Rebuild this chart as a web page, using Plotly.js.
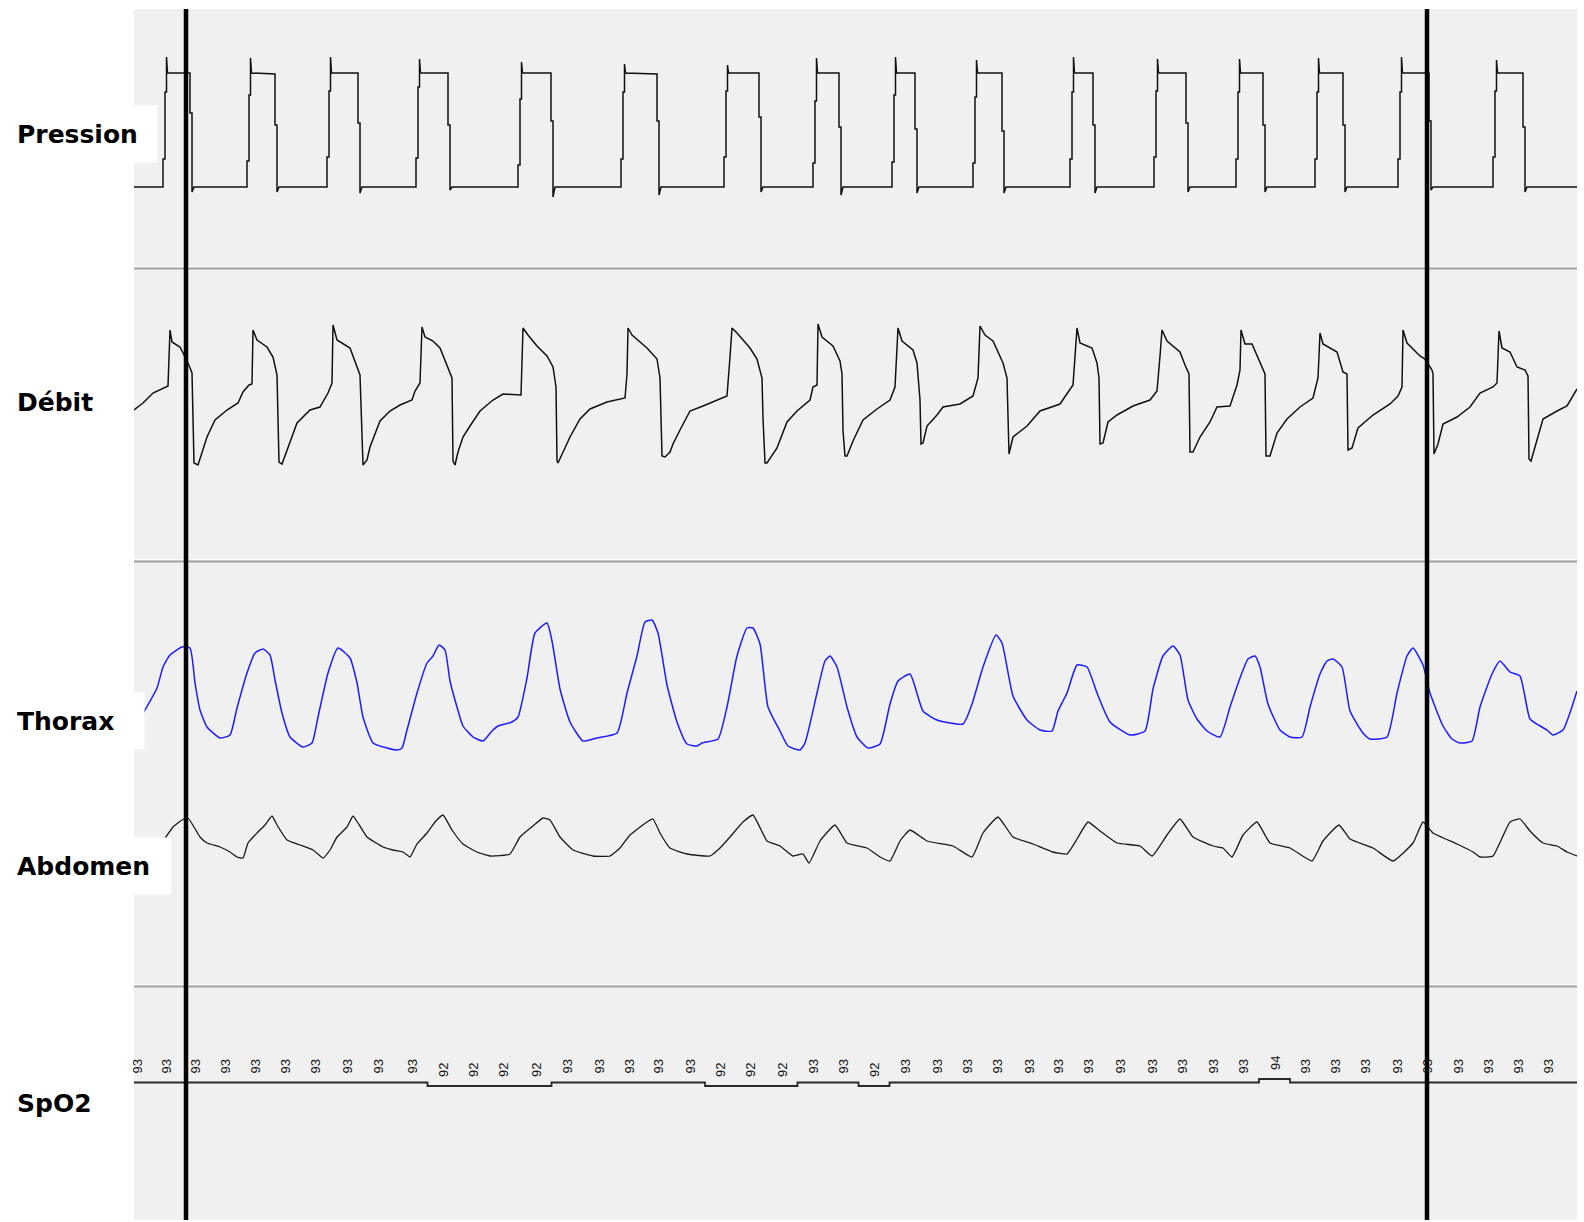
<!DOCTYPE html>
<html>
<head>
<meta charset="utf-8">
<script src="https://cdn.plot.ly/plotly-3.0.1.min.js"></script>
<style>html,body{margin:0;padding:0;background:#fff}#chart{width:1584px;height:1222px}</style>
</head>
<body>
<div id="chart"></div>
<script>
// ---------- data (time in sample units, signals in arbitrary units) ----------
const channelNames = ['Pression', 'Débit', 'Thorax', 'Abdomen', 'SpO2'];

const pressT = [134,
  163,163,165,165,166.5,166.5,167.5,190,190,192,192,194,
  247,247,249,249,250.5,250.5,251.5,275,275,277,277,279,
  327,327,329,329,330.5,330.5,331.5,358,358,360,360,362,
  416,416,418,418,419.5,419.5,420.5,448,448,450,450,452,
  518,518,520,520,521.5,521.5,522.5,551,551,553,553,555,
  621,621,623,623,624.5,624.5,625.5,657,657,659,659,661,
  724,724,726,726,727.5,727.5,728.5,759,759,761,761,763,
  813,813,815,815,816.5,816.5,817.5,839,839,841,841,843,
  892,892,894,894,895.5,895.5,896.5,915,915,917,917,919,
  973,973,975,975,976.5,976.5,977.5,1002,1002,1004,1004,1006,
  1070,1070,1072,1072,1073.5,1073.5,1074.5,1093,1093,1095,1095,1097,
  1154,1154,1156,1156,1157.5,1157.5,1158.5,1186,1186,1188,1188,1190,
  1236,1236,1238,1238,1239.5,1239.5,1240.5,1263,1263,1265,1265,1267,
  1315,1315,1317,1317,1318.5,1318.5,1319.5,1343,1343,1345,1345,1347,
  1398,1398,1400,1400,1401.5,1401.5,1402.5,1429,1429,1431,1431,1433,
  1493,1493,1495,1495,1496.5,1496.5,1497.5,1523,1523,1525,1525,1527,
  1577];
const pressV = [0,
  0,28,28,95,95,130,114,114,74,74,-5,0,
  0,26,26,92,92,129,114,113,62,62,-5,0,
  0,30,30,96,96,130,114,114,64,64,-6,0,
  0,29,29,100,100,128,114,114,62,62,-3,0,
  0,22,22,88,88,125,114,114,66,66,-10,0,
  0,28,28,95,95,123,114,113,66,66,-8,0,
  0,30,30,96,96,122,114,114,70,70,-5,0,
  0,24,24,86,86,129,114,114,60,60,-8,0,
  0,25,25,92,92,130,114,114,58,58,-6,0,
  0,24,24,90,90,127,114,114,56,56,-6,0,
  0,28,28,95,95,130,114,114,62,62,-6,0,
  0,30,30,96,96,128,114,114,64,64,-5,0,
  0,28,28,95,95,128,114,114,62,62,-5,0,
  0,28,28,95,95,129,114,114,62,62,-5,0,
  0,28,28,95,95,130,114,114,66,66,-3,0,
  0,30,30,96,96,127,114,114,60,60,-5,0,
  0];

const flowT = [
  134,143,153,165,168,170,172,180,183,188,192,194,198,202,207,215,227,238,243,249,252,
  253,257,267,273,277,279,282,287,297,310,320,328,332,
  333,337,350,357,360,363,367,370,380,390,400,412,415,420,
  422,425,433,440,447,452,453,455,458,463,470,480,493,503,521,
  523,528,537,547,553,556,557,558,563,570,580,590,607,625,627,
  628,632,647,657,660,662,665,670,673,680,690,703,727,730,
  732,737,750,757,762,763,765,767,777,787,797,810,813,817,
  818,822,833,840,842,843,845,847,853,863,877,890,895,
  898,902,913,917,920,921,923,927,937,943,960,973,978,
  980,985,993,1003,1007,1009,1013,1027,1040,1060,1073,
  1077,1080,1092,1097,1099,1100,1103,1108,1117,1133,1150,1157,1160,
  1162,1167,1180,1185,1189,1190,1193,1200,1210,1217,1230,1237,1240,
  1241,1245,1252,1260,1265,1266,1270,1277,1287,1300,1313,1318,
  1320,1323,1337,1343,1347,1348,1352,1358,1373,1390,1398,1402,
  1403,1407,1420,1425,1432,1433,1434,1438,1443,1457,1470,1480,1493,1497,
  1499,1502,1510,1517,1525,1528,1529,1531,1537,1543,1557,1567,1577];
const flowV = [
  -5,2,12,18,19,75,63,58,52,42,32,-58,-60,-48,-32,-15,-5,2,13,20,21,
  75,65,58,48,30,-57,-59,-45,-18,-5,-2,12,22,
  80,65,57,38,30,-60,-55,-42,-16,-6,0,5,14,22,
  78,68,64,57,40,27,-56,-60,-47,-32,-21,-6,5,11,10,
  77,70,59,49,38,18,-56,-58,-47,-32,-14,-4,3,7,31,
  77,70,57,46,27,-51,-52,-47,-39,-25,-6,-1,9,48,
  77,72,57,46,27,-13,-58,-58,-43,-17,-6,5,18,20,
  81,68,59,44,31,-26,-51,-51,-36,-15,-4,5,18,
  77,64,55,42,5,-39,-38,-21,-10,-2,1,9,27,
  79,70,64,42,27,-49,-32,-21,-6,1,20,
  77,62,57,42,27,-39,-38,-17,-10,-1,5,14,49,
  75,64,53,40,31,-47,-47,-32,-17,-2,-1,20,35,
  75,61,61,42,31,-51,-51,-28,-14,-2,7,27,
  72,61,53,33,31,-45,-43,-23,-10,1,9,18,
  75,62,49,46,35,31,-49,-39,-19,-12,-2,12,18,22,
  74,57,53,38,35,29,-54,-56,-36,-14,-6,-1,16];

const thoraxT = [
  134,145,157,163,170,182,190,195,200,207,220,230,
  237,247,255,263,270,275,282,290,303,312,
  318,328,338,350,357,363,373,387,397,402,
  407,417,427,433,439,445,450,457,463,473,483,492,498,512,518,
  527,535,547,552,560,570,583,597,617,
  627,637,645,652,658,667,677,687,697,702,718,
  727,737,747,753,760,768,780,788,800,805,
  817,825,830,837,847,857,868,880,
  890,898,910,923,937,963,
  972,983,996,1002,1013,1027,1040,1052,
  1058,1067,1077,1087,1097,1110,1130,1145,
  1153,1163,1173,1180,1188,1197,1207,1220,
  1230,1240,1248,1255,1260,1268,1280,1290,1302,
  1310,1320,1327,1333,1342,1350,1363,1370,1387,
  1397,1407,1413,1423,1430,1443,1452,1460,1472,
  1480,1492,1500,1510,1520,1530,1540,1547,1553,1563,1577];
const thoraxV = [
  -28,-10,12,33,45,53,52,17,-10,-27,-38,-35,
  -8,27,47,51,45,20,-13,-37,-47,-43,
  -17,27,52,42,17,-17,-43,-48,-50,-48,
  -30,7,37,44,55,50,19,-7,-26,-37,-41,-31,-26,-22,-17,
  22,67,77,59,11,-22,-41,-38,-33,
  7,44,78,80,67,15,-22,-44,-46,-43,-39,
  -7,44,72,72,56,-7,-31,-46,-50,-43,
  7,39,44,33,-7,-37,-48,-44,
  -4,19,26,-11,-20,-24,
  -4,33,65,57,4,-20,-30,-31,
  -11,7,35,33,7,-22,-35,-31,
  11,44,54,45,0,-19,-31,-37,
  -7,22,41,44,33,-4,-30,-37,-37,
  -7,26,39,41,33,-11,-33,-39,-37,
  7,44,52,35,7,-26,-39,-43,-41,
  -7,26,39,28,24,-19,-26,-30,-35,-30,9];

const abdomenT = [
  134,160,173,182,188,200,207,220,230,237,243,
  248,257,265,272,277,287,300,313,323,
  330,337,347,353,358,367,383,393,403,410,
  417,427,435,443,452,463,477,490,510,
  520,533,543,550,560,573,593,610,
  620,630,647,653,660,670,687,710,
  720,730,743,753,767,780,793,803,809,
  820,835,847,867,880,890,
  900,910,927,953,972,
  983,998,1013,1033,1053,1067,
  1077,1088,1100,1117,1140,1152,
  1167,1180,1193,1213,1223,1232,
  1243,1257,1270,1290,1312,
  1323,1339,1350,1373,1393,
  1413,1423,1433,1457,1473,1480,1493,
  1510,1520,1530,1543,1557,1567,1577];
const abdomenV = [
  -22,-5,13,20,22,3,-3,-7,-12,-17,-18,
  -3,7,15,24,15,0,-5,-10,-18,
  -10,3,13,24,17,3,-7,-10,-12,-17,
  -4,7,18,25,10,-4,-12,-16,-14,
  3,14,22,20,3,-10,-16,-16,
  -8,5,18,21,7,-8,-14,-16,
  -8,3,18,25,-1,-6,-16,-14,-23,
  -1,15,-3,-8,-17,-21,
  -1,10,-1,-6,-17,
  7,23,3,-4,-12,-14,
  1,18,9,-3,-6,-16,
  5,21,3,-6,-8,-17,
  5,18,-3,-8,-21,
  -1,15,1,-8,-21,
  -3,18,7,-4,-12,-17,-16,
  18,21,9,-3,-6,-12,-16];

const spo2T = [137,166,195,225,255,285,315,347,378,412,443,473,503,536,567,599,629,658,690,720,750,782,
  813,843,874,905,937,967,997,1029,1058,1088,1120,1152,1182,1213,1243,1275,1305,1335,1365,1397,1427,
  1458,1488,1518,1548,1578];
const spo2V = [93,93,93,93,93,93,93,93,93, 93,92,92,92,92, 93,93,93,93,93, 92,92,92, 93,93,92,
  93,93,93,93,93,93,93,93,93,93,93,93, 94, 93,93,93,93,93,93,93,93,93,93];

const eventMarks = [186, 1427];

// ---------- geometry / styling ----------
const plotL = 134, plotR = 1577, plotT = 9, plotB = 1220;
const ph = plotB - plotT, pw = plotR - plotL;
const py = p => (plotB - p) / ph;
const px = p => (p - plotL) / pw;
const sep = [268.5, 561.5, 986.5];
const pressBase = 187, flowBase = 405, thorBase = 700, abdBase = 840;
const spo2Ref = 93, spo2RefPx = 1082.5, spo2Scale = 3.5;

const lineStyle = (c, w) => ({color: c, width: w});
const traces = [
  {x: pressT, y: pressV, xaxis: 'x', yaxis: 'y', mode: 'lines', line: lineStyle('#111', 1.5), name: channelNames[0]},
  {x: flowT, y: flowV, xaxis: 'x', yaxis: 'y2', mode: 'lines', line: lineStyle('#111', 1.5), name: channelNames[1]},
  {x: thoraxT, y: thoraxV, xaxis: 'x', yaxis: 'y3', mode: 'lines', line: Object.assign(lineStyle('#1c1cff', 1.5), {shape: 'spline', smoothing: 0.5}), name: channelNames[2]},
  {x: abdomenT, y: abdomenV, xaxis: 'x', yaxis: 'y4', mode: 'lines', line: Object.assign(lineStyle('#1a1a1a', 1.3), {shape: 'spline', smoothing: 0.4}), name: channelNames[3]},
  {x: [plotL].concat(spo2T), y: [spo2V[0]].concat(spo2V), xaxis: 'x', yaxis: 'y5', mode: 'lines', line: Object.assign(lineStyle('#2a2a2a', 1.8), {shape: 'hvh'}), name: channelNames[4]}
];
traces.forEach(t => { t.hoverinfo = 'skip'; t.showlegend = false; });

const hidden = {visible: false, fixedrange: true, showgrid: false, zeroline: false};
const layout = {
  width: 1584, height: 1222,
  margin: {l: plotL, r: 1584 - plotR, t: plotT, b: 1222 - plotB, pad: 0},
  paper_bgcolor: '#ffffff', plot_bgcolor: '#f0f0f0',
  showlegend: false,
  xaxis: Object.assign({}, hidden, {range: [plotL, plotR], domain: [0, 1]}),
  yaxis: Object.assign({}, hidden, {anchor: 'x', domain: [py(sep[0]), 1], range: [pressBase - sep[0], pressBase - plotT]}),
  yaxis2: Object.assign({}, hidden, {anchor: 'x', domain: [py(sep[1]), py(sep[0])], range: [flowBase - sep[1], flowBase - sep[0]]}),
  yaxis3: Object.assign({}, hidden, {anchor: 'x', domain: [py(sep[2]), py(sep[1])], range: [thorBase - sep[2], thorBase - sep[1]]}),
  yaxis4: Object.assign({}, hidden, {anchor: 'x', overlaying: 'y3', range: [abdBase - sep[2], abdBase - sep[1]]}),
  yaxis5: Object.assign({}, hidden, {anchor: 'x', domain: [0, py(sep[2])],
    range: [spo2Ref - (plotB - spo2RefPx) / spo2Scale, spo2Ref + (spo2RefPx - sep[2]) / spo2Scale]}),
  shapes: [],
  annotations: []
};

// separators between channel strips
sep.forEach(s => {
  layout.shapes.push({type: 'line', xref: 'paper', yref: 'paper', x0: 0, x1: 1, y0: py(s - 2), y1: py(s - 2), line: {color: '#fbfbfb', width: 1}});
  layout.shapes.push({type: 'line', xref: 'paper', yref: 'paper', x0: 0, x1: 1, y0: py(s), y1: py(s), line: {color: '#a2a2a2', width: 2}});
});
// event markers
eventMarks.forEach(m => {
  layout.shapes.push({type: 'line', xref: 'x', yref: 'paper', x0: m, x1: m, y0: 0, y1: 1, line: {color: '#000', width: 4.5}});
});

// channel labels
const labelCenters = [134, 402, 721, 866, 1103];
const labelWidths = [128, 100, 115, 142, 100];
channelNames.forEach((n, i) => {
  layout.annotations.push({
    xref: 'paper', yref: 'paper', x: px(4), y: py(labelCenters[i]),
    xanchor: 'left', yanchor: 'middle', showarrow: false,
    text: '<b>' + n + '</b>', align: 'left', valign: 'middle',
    width: labelWidths[i], height: 32, borderpad: 12, borderwidth: 1,
    bordercolor: 'rgba(0,0,0,0)', bgcolor: '#ffffff',
    font: {family: 'DejaVu Sans, sans-serif', size: 25, color: '#000'}
  });
});

// SpO2 value labels
spo2T.forEach((t, i) => {
  layout.annotations.push({
    xref: 'x', yref: 'y5', x: t, y: spo2V[i], yshift: 16,
    text: String(spo2V[i]), textangle: -90, showarrow: false,
    xanchor: 'center', yanchor: 'middle',
    font: {family: 'Liberation Sans, Arial, sans-serif', size: 13, color: '#111'}
  });
});

Plotly.newPlot('chart', traces, layout, {displayModeBar: false, staticPlot: true});
</script>
</body>
</html>
